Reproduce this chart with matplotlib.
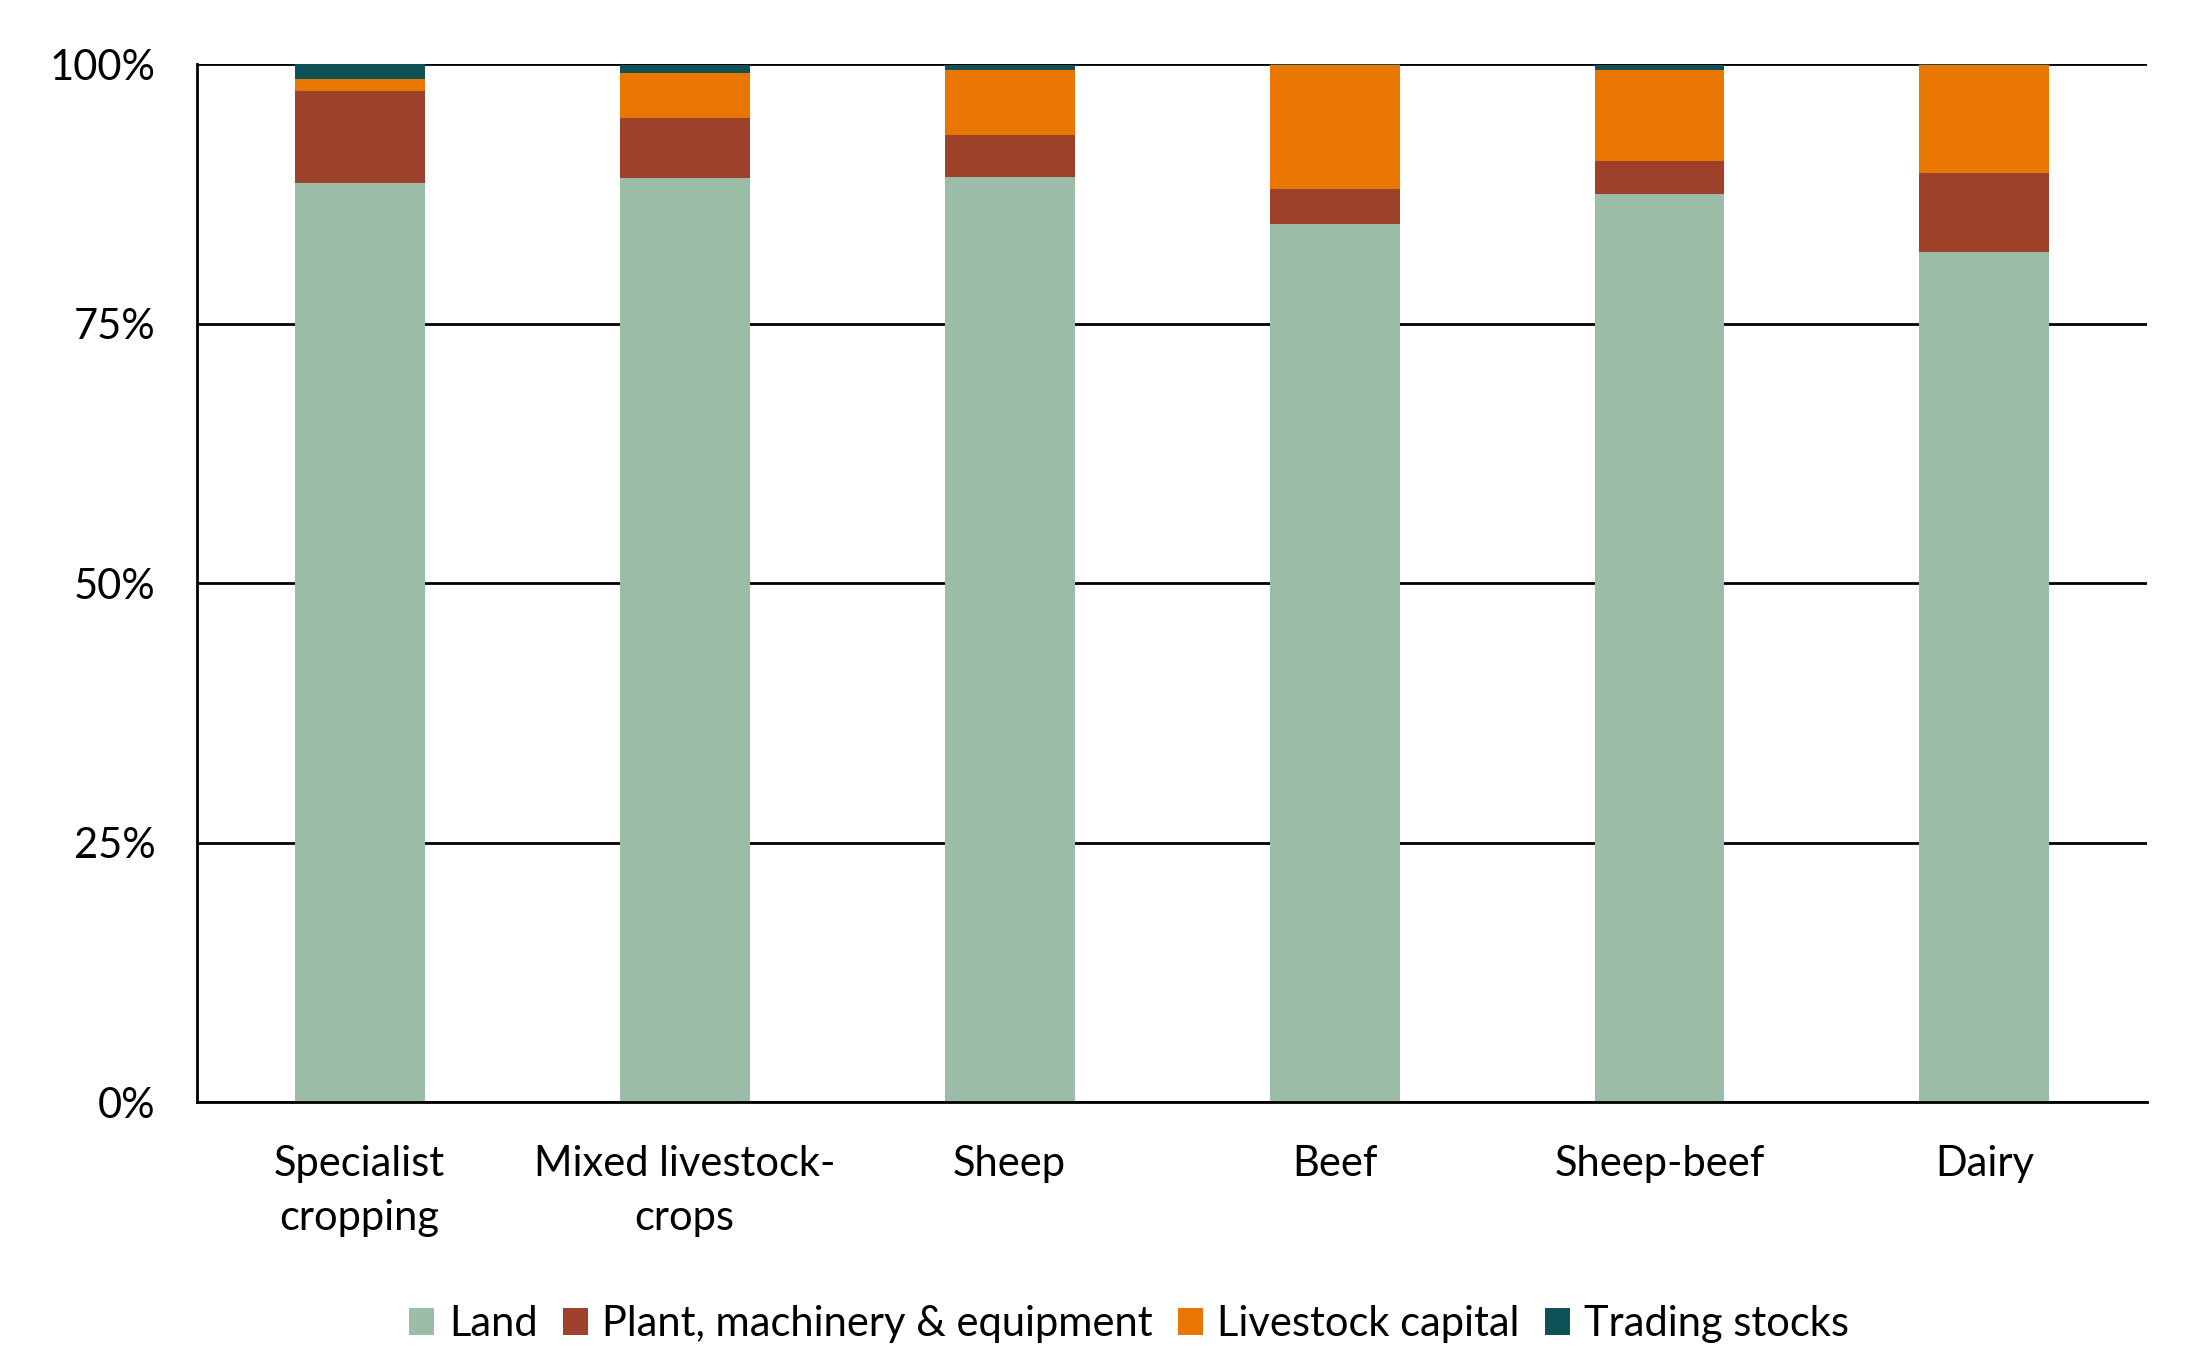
import matplotlib
matplotlib.use("Agg")
import matplotlib.pyplot as plt
import numpy as np
from matplotlib.ticker import FixedLocator

plt.rcParams['font.family'] = ['Lato', 'DejaVu Sans']

categories = ["Specialist\ncropping", "Mixed livestock-\ncrops", "Sheep", "Beef", "Sheep-beef", "Dairy"]
land = [88.6, 89.0, 89.1, 84.6, 87.5, 81.9]
plant = [8.85, 5.85, 4.08, 3.35, 3.15, 7.65]
livestock = [1.1, 4.27, 6.24, 12.0, 8.8, 10.4]
trading = [1.45, 0.77, 0.48, 0.05, 0.48, 0.05]
series_names = ["Land", "Plant, machinery & equipment", "Livestock capital", "Trading stocks"]
colors = ["#9BBDA8", "#9E412B", "#E97600", "#0E5257"]
yticks = [0, 25, 50, 75, 100]
ytick_labels = ["0%", "25%", "50%", "75%", "100%"]

fig = plt.figure(figsize=(21.93, 13.68), dpi=100)
ax = fig.add_axes([0.0899, 0.1944, 0.979 - 0.0899, 0.953 - 0.1944])

x = np.arange(len(categories))
bottom = np.zeros(len(categories))
data = [land, plant, livestock, trading]
for name, vals, c in zip(series_names, data, colors):
    vals = np.array(vals)
    ax.bar(x, vals, 0.4, bottom=bottom, color=c, label=name, zorder=3)
    bottom += vals

ax.set_xlim(-0.5, len(categories) - 0.5)
ax.set_ylim(0, 100)
ax.yaxis.set_major_locator(FixedLocator(yticks))
ax.set_yticklabels(ytick_labels)
ax.set_xticks(x)
ax.set_xticklabels(categories, linespacing=1.5)
ax.grid(axis='y', color='black', linewidth=2, zorder=1)
ax.grid(axis='x', visible=False)
for s in ['top', 'right']:
    ax.spines[s].set_visible(False)
for s in ['left', 'bottom']:
    ax.spines[s].set_color('black')
    ax.spines[s].set_linewidth(2)
    ax.spines[s].set_zorder(4)
ax.tick_params(axis='both', length=0, labelsize=30)
ax.tick_params(axis='y', pad=30)
ax.tick_params(axis='x', pad=31)

fig.legend(loc='center', bbox_to_anchor=(0.515, 0.032), ncol=4, frameon=False,
           fontsize=30, handlelength=0.6, handleheight=0.6, handletextpad=0.35,
           columnspacing=0.6)

fig.savefig("out.png", dpi=100)
